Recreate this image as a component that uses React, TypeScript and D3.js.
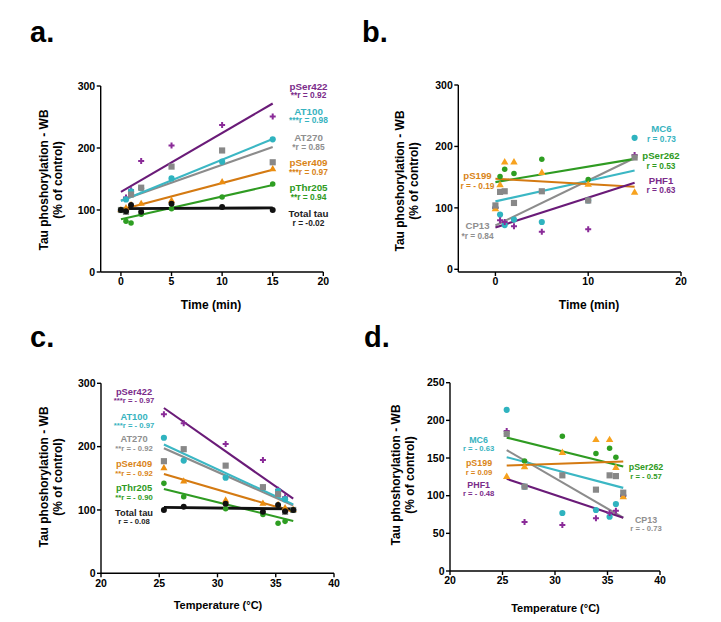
import React from "react";
import * as d3 from "d3";

// ---------- DATA ----------
const times = [0, 0.5, 1, 2, 5, 10, 15];
const temps = [36.5, 35.8, 35.2, 33.9, 30.7, 27.1, 25.4];

// group A (panels a, c)
const pSer422 = [100, 120, 132, 179, 204, 237, 251];
const AT100 = [100, 117, 130, 135, 151, 178, 214];
const AT270 = [100, 97, 125, 136, 170, 196, 177];
const pSer409 = [100, 103, 108, 110, 115, 145, 166];
const pThr205 = [100, 82, 79, 93, 102, 121, 142];
const totalTau = [100, 98, 108, 97, 110, 105, 100];

// group B (panels b, d)
const MC6 = [100, 89, 72, 81, 77, 112, 214];
const pSer262 = [100, 151, 163, 156, 179, 146, 183];
const PHF1 = [100, 80, 77, 70, 61, 65, 186];
const pS199 = [98, 137, 174, 174, 157, 138, 125];
const CP13 = [104, 126, 127, 108, 127, 112, 182];

const namesA = ["pSer422", "AT100", "AT270", "pSer409", "pThr205", "Total tau"];
const rTextsA = ["**r = 0.92", "***r = 0.98", "*r = 0.85", "***r = 0.97", "**r = 0.94", "r = -0.02"];
const rTextsC = ["***r = - 0.97", "***r = - 0.97", "**r = - 0.92", "**r = - 0.92", "**r = - 0.90", "r = - 0.08"];
const namesB = ["MC6", "pSer262", "PHF1", "pS199", "CP13"];
const rTextsB = ["r = 0.73", "r = 0.53", "r = 0.63", "r = - 0.19", "*r = 0.84"];
const rTextsD = ["r = - 0.63", "r = - 0.57", "r = - 0.48", "r = 0.09", "r = - 0.73"];

const timeTicks = [0, 5, 10, 15, 20];
const timeTicksB = [0, 10, 20];
const tempTicks = [20, 25, 30, 35, 40];
const yTicks300 = [0, 100, 200, 300];
const yTicks250 = [0, 50, 100, 150, 200, 250];

// ---------- STYLE ----------
const FONT = "'Liberation Sans', Arial, Helvetica, sans-serif";
const C = {
  purple: { line: "#6A1B78", mark: "#8A2B98", text: "#7B2B8A" },
  cyan: { line: "#3BB7C4", mark: "#2FB3BF", text: "#37B3C0" },
  gray: { line: "#8C8C8C", mark: "#888888", text: "#8F8F8F" },
  orange: { line: "#D47A12", mark: "#EC8E10", text: "#D98418" },
  orangeB: { line: "#D47A12", mark: "#F7A21E", text: "#D98418" },
  green: { line: "#2F9B22", mark: "#2E9E22", text: "#2E9A22" },
  black: { line: "#111111", mark: "#111111", text: "#222222" },
};

type Ser = { values: number[]; col: any; marker: string; size: number };

const seriesA: Ser[] = [
  { values: pSer422, col: C.purple, marker: "cross", size: 20 },
  { values: AT100, col: C.cyan, marker: "circle", size: 30 },
  { values: AT270, col: C.gray, marker: "square", size: 38 },
  { values: pSer409, col: C.orange, marker: "triangle", size: 22 },
  { values: pThr205, col: C.green, marker: "circle", size: 24 },
  { values: totalTau, col: C.black, marker: "circle", size: 28 },
];
const seriesB: Ser[] = [
  { values: MC6, col: C.cyan, marker: "circle", size: 30 },
  { values: pSer262, col: C.green, marker: "circle", size: 24 },
  { values: PHF1, col: C.purple, marker: "cross", size: 20 },
  { values: pS199, col: C.orangeB, marker: "triangle", size: 24 },
  { values: CP13, col: C.gray, marker: "square", size: 38 },
];
// fitted lines (as drawn in the original figure)
const fitsA = [
  { values: AT270, col: C.gray, w: 2.1 },
  { values: AT100, col: C.cyan, w: 2.1 },
  { values: pSer422, col: C.purple, w: 2.1 },
  { values: pSer409, col: C.orange, w: 2.1 },
  { values: pThr205, col: C.green, w: 2.1 },
  { values: totalTau, col: C.black, w: 2.8 },
];
const fitsB = [
  { values: MC6, col: C.gray, w: 2.1 },
  { values: CP13, col: C.cyan, w: 2.1 },
  { values: pSer262, col: C.green, w: 2.1 },
  { values: pS199, col: C.orange, w: 2.1 },
  { values: PHF1, col: C.purple, w: 2.1 },
];

function linFit(xs: number[], ys: number[]) {
  const mx = d3.mean(xs)!;
  const my = d3.mean(ys)!;
  let sxy = 0, sxx = 0;
  xs.forEach((x, i) => {
    sxy += (x - mx) * (ys[i] - my);
    sxx += (x - mx) * (x - mx);
  });
  const b = sxy / sxx;
  return (x: number) => my + b * (x - mx);
}

const symbolOf: any = {
  cross: d3.symbolCross,
  circle: d3.symbolCircle,
  square: d3.symbolSquare,
  triangle: d3.symbolTriangle,
};

type Label = { text: string; sub: string; x: number; y: number; col: any };

type PanelProps = {
  letter: string;
  letterX: number;
  letterY: number;
  xDomain: number[];
  xRange: number[];
  yDomain: number[];
  yRange: number[];
  axisY?: number;
  xTicks: number[];
  yTicks: number[];
  xs: number[];
  series: Ser[];
  fits: any[];
  xTitle: string;
  xTitleX: number;
  xTitleY: number;
  xTitleSize: number;
  yTitleX: number;
  yTitleY: number;
  labels: Label[];
  nameSize: number;
  subSize: number;
  subGap: number;
};

function Panel(p: PanelProps) {
  const x = d3.scaleLinear().domain(p.xDomain).range(p.xRange);
  const y = d3.scaleLinear().domain(p.yDomain).range(p.yRange);
  const x0 = p.xRange[0];
  const x1 = p.xRange[1];
  const axY = p.axisY ?? p.yRange[0];
  const yTop = y(p.yTicks[p.yTicks.length - 1]);
  const [xmin, xmax] = d3.extent(p.xs) as [number, number];
  const tickFont = 10.5;
  return (
    <g>
      <text x={p.letterX} y={p.letterY} fontSize={29} fontWeight="bold" fontFamily={FONT}>
        {p.letter}
      </text>
      {/* fit lines */}
      {p.fits.map((f, i) => {
        const fn = linFit(p.xs, f.values);
        return (
          <line
            key={"f" + i}
            x1={x(xmin)}
            x2={x(xmax)}
            y1={y(fn(xmin))}
            y2={y(fn(xmax))}
            stroke={f.col.line}
            strokeWidth={f.w}
          />
        );
      })}
      {/* points */}
      {p.series.map((s, si) => {
        const sym = d3.symbol().type(symbolOf[s.marker]).size(s.size);
        return (
          <g key={"s" + si} fill={s.col.mark}>
            {s.values.map((v, i) => (
              <path key={i} d={sym() as string} transform={`translate(${x(p.xs[i])},${y(v)})`} />
            ))}
          </g>
        );
      })}
      {/* axes */}
      <line x1={x0} x2={x1} y1={axY} y2={axY} stroke="#000" strokeWidth={1.4} />
      <line x1={x0} x2={x0} y1={axY} y2={yTop} stroke="#000" strokeWidth={1.4} />
      {p.xTicks.map((t) => (
        <g key={"xt" + t}>
          <line x1={x(t)} x2={x(t)} y1={axY} y2={axY + 4} stroke="#000" strokeWidth={1.4} />
          <text
            x={x(t)}
            y={axY + 6}
            dy="0.71em"
            textAnchor="middle"
            fontSize={tickFont}
            fontWeight="bold"
            fontFamily={FONT}
          >
            {t}
          </text>
        </g>
      ))}
      {p.yTicks.map((t) => (
        <g key={"yt" + t}>
          <line x1={x0 - 4} x2={x0} y1={y(t)} y2={y(t)} stroke="#000" strokeWidth={1.4} />
          <text
            x={x0 - 5.5}
            y={y(t)}
            dy="0.35em"
            textAnchor="end"
            fontSize={tickFont}
            fontWeight="bold"
            fontFamily={FONT}
          >
            {t}
          </text>
        </g>
      ))}
      <text
        x={p.xTitleX}
        y={p.xTitleY}
        textAnchor="middle"
        fontSize={p.xTitleSize}
        fontWeight="bold"
        fontFamily={FONT}
      >
        {p.xTitle}
      </text>
      <g transform={`translate(${p.yTitleX},${p.yTitleY}) rotate(-90)`} fontFamily={FONT} fontWeight="bold" fontSize={12}>
        <text x={0} y={0} textAnchor="middle">
          Tau phoshorylation - WB
        </text>
        <text x={0} y={14} textAnchor="middle">
          (% of control)
        </text>
      </g>
      {p.labels.map((l, i) => (
        <g key={"l" + i} fontFamily={FONT} fontWeight="bold" fill={l.col.text} textAnchor="middle">
          <text x={l.x} y={l.y} fontSize={p.nameSize}>
            {l.text}
          </text>
          <text x={l.x} y={l.y + p.subGap} fontSize={p.subSize}>
            {l.sub}
          </text>
        </g>
      ))}
    </g>
  );
}

const colsA = [C.purple, C.cyan, C.gray, C.orange, C.green, C.black];
const colsB = [C.cyan, C.green, C.purple, C.orange, C.gray];

export default function App() {
  const labA: Label[] = namesA.map((n, i) => ({
    text: n,
    sub: rTextsA[i],
    x: 308.5,
    y: [89.5, 114.6, 141, 166, 191.3, 217][i],
    col: colsA[i],
  }));
  const labC: Label[] = namesA.map((n, i) => ({
    text: n,
    sub: rTextsC[i],
    x: 134,
    y: [394.6, 419.6, 442.3, 467, 491, 515.6][i],
    col: colsA[i],
  }));
  const posB = [
    [661.5, 132],
    [661, 159.3],
    [661, 183.6],
    [477.5, 179.3],
    [477.5, 229.3],
  ];
  const labB: Label[] = namesB.map((n, i) => ({
    text: n,
    sub: rTextsB[i],
    x: posB[i][0],
    y: posB[i][1],
    col: colsB[i],
  }));
  const posD = [
    [478.6, 442.6],
    [646, 470.3],
    [478.7, 487.6],
    [479, 466.3],
    [646, 522.6],
  ];
  const labD: Label[] = namesB.map((n, i) => ({
    text: n,
    sub: rTextsD[i],
    x: posD[i][0],
    y: posD[i][1],
    col: colsB[i],
  }));

  return (
    <svg
      width={721}
      height={622}
      style={{ position: "absolute", left: 0, top: 0, background: "#fff" }}
    >
      <rect width={721} height={622} fill="#fff" />
      <Panel
        letter="a."
        letterX={30}
        letterY={42}
        xDomain={[-2, 20]}
        xRange={[100.7, 323.3]}
        yDomain={[0, 300]}
        yRange={[272, 86]}
        xTicks={timeTicks}
        yTicks={yTicks300}
        xs={times}
        series={seriesA}
        fits={fitsA}
        xTitle="Time (min)"
        xTitleX={211}
        xTitleY={309}
        xTitleSize={12}
        yTitleX={48}
        yTitleY={180}
        labels={labA}
        nameSize={9.8}
        subSize={8.4}
        subGap={8.5}
      />
      <Panel
        letter="b."
        letterX={362}
        letterY={42}
        xDomain={[-4, 20]}
        xRange={[458.3, 681]}
        yDomain={[0, 300]}
        yRange={[269.3, 85]}
        axisY={272}
        xTicks={timeTicksB}
        yTicks={yTicks300}
        xs={times}
        series={seriesB}
        fits={fitsB}
        xTitle="Time (min)"
        xTitleX={589}
        xTitleY={309}
        xTitleSize={12}
        yTitleX={404}
        yTitleY={181}
        labels={labB}
        nameSize={9.6}
        subSize={8.3}
        subGap={9.5}
      />
      <Panel
        letter="c."
        letterX={30}
        letterY={347}
        xDomain={[20, 40]}
        xRange={[101, 334]}
        yDomain={[0, 300]}
        yRange={[573.3, 383.3]}
        xTicks={tempTicks}
        yTicks={yTicks300}
        xs={temps}
        series={seriesA}
        fits={fitsA}
        xTitle="Temperature (°C)"
        xTitleX={218}
        xTitleY={609}
        xTitleSize={11}
        yTitleX={48}
        yTitleY={477}
        labels={labC}
        nameSize={9.3}
        subSize={7.7}
        subGap={8.6}
      />
      <Panel
        letter="d."
        letterX={364}
        letterY={347}
        xDomain={[20, 40]}
        xRange={[450, 660]}
        yDomain={[0, 250]}
        yRange={[571, 382.7]}
        xTicks={tempTicks}
        yTicks={yTicks250}
        xs={temps}
        series={seriesB}
        fits={fitsB}
        xTitle="Temperature (°C)"
        xTitleX={555.5}
        xTitleY={612}
        xTitleSize={11}
        yTitleX={400}
        yTitleY={475}
        labels={labD}
        nameSize={8.9}
        subSize={7.7}
        subGap={8.3}
      />
    </svg>
  );
}
